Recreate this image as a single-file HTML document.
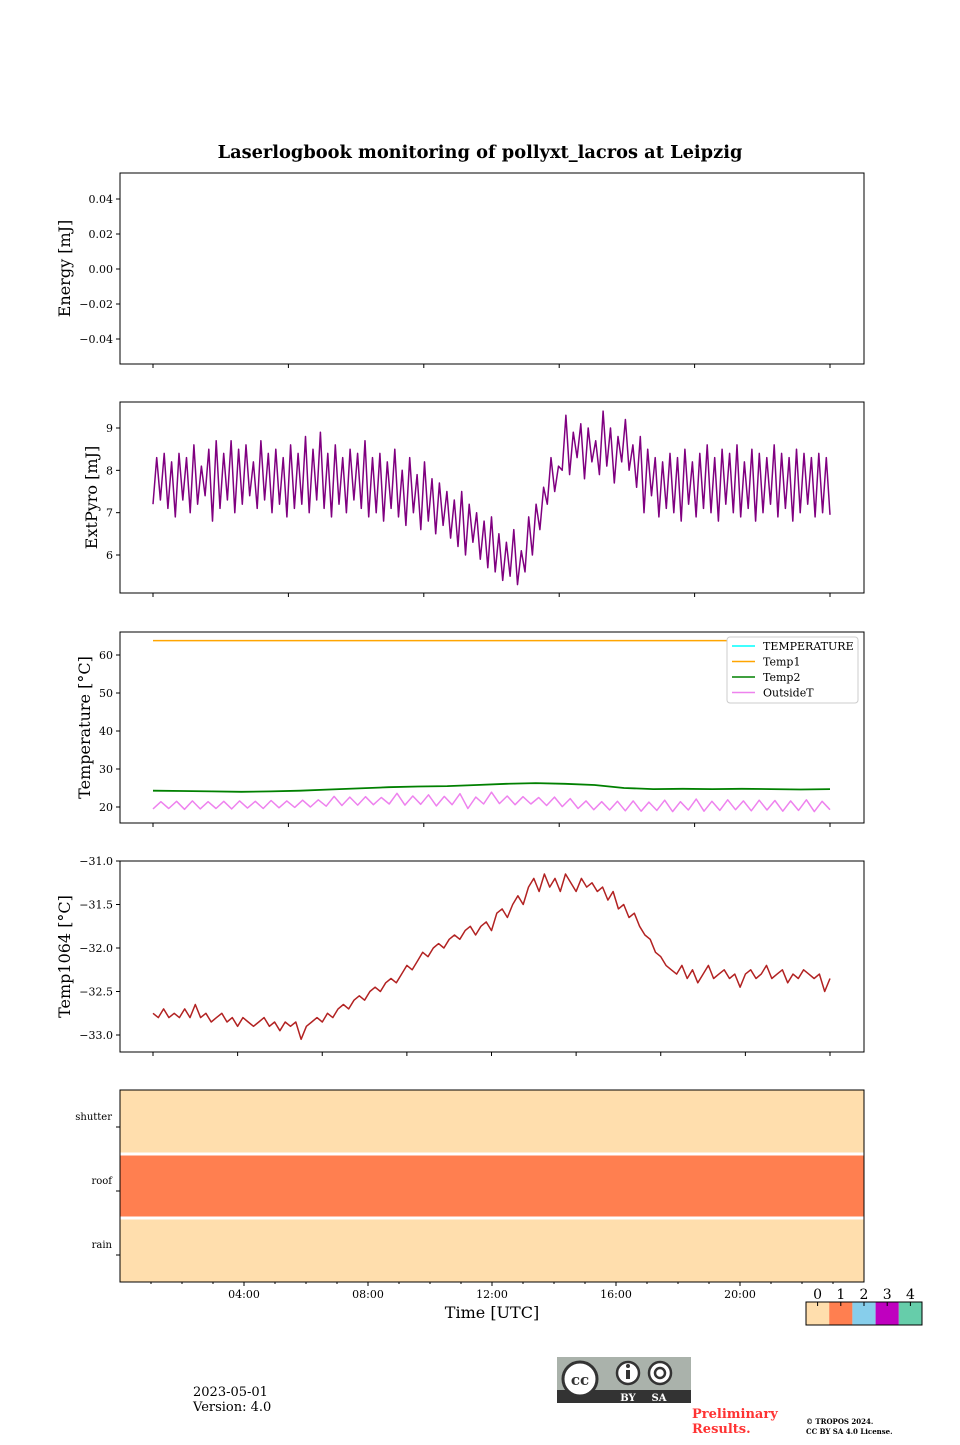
<!DOCTYPE html>
<html><head><meta charset="utf-8"><style>
html,body{margin:0;padding:0;background:#fff}
svg text{font-family:"DejaVu Serif","Liberation Serif",serif}
</style></head><body>
<svg id="fig" width="960" height="1440" xmlns="http://www.w3.org/2000/svg">
<text x="480" y="158" text-anchor="middle" font-size="17.8" font-weight="bold">Laserlogbook monitoring of pollyxt_lacros at Leipzig</text>
</svg>
<script>
const pyroValues=[7.2,8.3,7.3,8.4,7.1,8.2,6.9,8.4,7.3,8.3,7.0,8.6,7.2,8.1,7.4,8.5,6.8,8.7,7.1,8.4,7.3,8.7,7.0,8.5,7.2,8.6,7.4,8.2,7.1,8.7,7.3,8.4,7.0,8.5,7.2,8.3,6.9,8.6,7.1,8.4,7.2,8.8,7.0,8.5,7.3,8.9,7.1,8.4,6.9,8.6,7.2,8.3,7.0,8.5,7.3,8.4,7.1,8.7,6.9,8.3,
7.0,8.4,6.8,8.2,7.1,8.5,6.9,8.0,6.7,8.3,7.0,7.9,6.6,8.2,6.8,7.8,6.5,7.7,6.7,7.5,
6.4,7.3,6.2,7.5,6.0,7.2,6.3,7.0,5.9,6.8,5.7,6.9,5.6,6.5,5.4,6.3,5.5,6.6,5.3,6.1,
5.6,6.9,6.0,7.2,6.6,7.6,7.2,8.3,7.5,8.1,
8.0,9.3,7.9,8.9,8.3,9.1,7.8,9.0,8.2,8.7,7.9,9.4,8.1,9.0,7.7,8.8,8.2,9.2,8.0,8.6,7.6,8.8,
7.0,8.5,7.4,8.3,6.9,8.2,7.1,8.4,7.0,8.3,6.8,8.5,7.2,8.2,6.9,8.4,7.1,8.6,7.0,8.3,6.8,8.5,7.2,8.4,7.0,8.6,6.9,8.2,7.1,8.5,6.8,8.4,7.0,8.3,7.2,8.6,6.9,8.4,7.1,8.3,6.8,8.5,7.0,8.4,7.2,8.3,6.9,8.4,7.0,8.3,6.95];
const temp1Values=[63.8,63.8,63.8,63.8,63.8];
const temp2Values=[24.3,24.2,24.1,24.0,24.1,24.3,24.6,24.9,25.2,25.4,25.5,25.8,26.1,26.3,26.1,25.8,25.0,24.7,24.8,24.7,24.8,24.7,24.6,24.7];
const outsideValues=[19.5,21.4,19.6,21.5,19.4,21.6,19.5,21.4,19.6,21.5,19.5,21.6,19.7,21.5,19.6,21.7,19.8,21.6,19.9,21.8,20.0,21.9,20.2,22.8,20.4,22.6,20.5,22.7,20.6,22.5,20.8,23.6,20.5,22.9,20.7,23.2,20.3,22.8,20.6,23.5,19.6,22.6,20.8,23.9,20.9,22.9,20.6,22.7,20.8,22.5,20.4,22.6,20.1,22.2,19.6,21.6,19.3,21.4,19.2,21.5,19.0,21.6,18.9,21.3,19.1,21.8,18.8,21.4,19.2,22.1,18.9,21.5,19.1,21.9,19.3,21.6,19.0,21.8,19.2,21.7,18.9,21.6,19.1,21.9,18.8,21.5,19.3];
const t1064Values=[-32.75,-32.8,-32.7,-32.8,-32.75,-32.8,-32.7,-32.8,-32.65,-32.8,-32.75,-32.85,-32.8,-32.75,-32.85,-32.8,-32.9,-32.8,-32.85,-32.9,-32.85,-32.8,-32.9,-32.85,-32.95,-32.85,-32.9,-32.85,-33.05,-32.9,-32.85,-32.8,-32.85,-32.75,-32.8,-32.7,-32.65,-32.7,-32.6,-32.55,-32.6,-32.5,-32.45,-32.5,-32.4,-32.35,-32.4,-32.3,-32.2,-32.25,-32.15,-32.05,-32.1,-32.0,-31.95,-32.0,-31.9,-31.85,-31.9,-31.8,-31.75,-31.85,-31.75,-31.7,-31.8,-31.6,-31.55,-31.65,-31.5,-31.4,-31.5,-31.3,-31.2,-31.35,-31.15,-31.3,-31.2,-31.35,-31.15,-31.25,-31.35,-31.2,-31.3,-31.25,-31.35,-31.3,-31.45,-31.35,-31.55,-31.5,-31.65,-31.6,-31.75,-31.85,-31.9,-32.05,-32.1,-32.2,-32.25,-32.3,-32.2,-32.35,-32.25,-32.4,-32.3,-32.2,-32.35,-32.3,-32.25,-32.35,-32.3,-32.45,-32.3,-32.25,-32.35,-32.3,-32.2,-32.35,-32.3,-32.25,-32.4,-32.3,-32.35,-32.25,-32.3,-32.35,-32.3,-32.5,-32.35];
const statusRows=["shutter","roof","rain"];
const statusValues=[0,1,0];
const energyTicks=[0.04,0.02,0.00,-0.02,-0.04];
const pyroTicks=[9,8,7,6];
const tempTicks=[60,50,40,30,20];
const t1064Ticks=[-31.0,-31.5,-32.0,-32.5,-33.0];
const hourTicks=[4,8,12,16,20];
const hourLabels=["04:00","08:00","12:00","16:00","20:00"];
const cbLabels=["0","1","2","3","4"];
const cbColors=["#FFDEAD","#FF7F50","#87CEEB","#BF00BF","#66CDAA"];

const svg=document.getElementById('fig');
const NS='http://www.w3.org/2000/svg';
function mk(t,a,p){const e=document.createElementNS(NS,t);for(const k in a)e.setAttribute(k,a[k]);(p||svg).appendChild(e);return e;}
const L=120,R=864,X0=153,X1=830;
function xi(i,n){return X0+(X1-X0)*i/(n-1);}
function ysc(top,bot,v0,p0,v1,p1){return v=>p0+(v-v0)*(p1-p0)/(v1-v0);}
function hourX(h){return L+(R-L)*h/24;}

function panel(name,top,h,ticks,ys,fmt,label,nx){
  const g=mk('g',{});
  
  
  mk('rect',{x:L,y:top,width:R-L,height:h,fill:'none',stroke:'#000','stroke-width':1},g);
  ticks.forEach(t=>{const y=ys(t);
    mk('line',{x1:L-4,x2:L,y1:y,y2:y,stroke:'#000'},g);
    const tx=mk('text',{x:L-7,y:y+4,'text-anchor':'end','font-size':11},g);tx.textContent=fmt(t);
    
    });
  for(let k=0;k<=nx;k++){const x=X0+(X1-X0)*k/nx;mk('line',{x1:x,x2:x,y1:top+h,y2:top+h+4,stroke:'#000'},g);}
  const yl=mk('text',{x:0,y:0,'text-anchor':'middle','font-size':16,transform:`translate(${label[1]},${top+h/2}) rotate(-90)`},g);yl.textContent=label[0];
  
  
  return g;
}
function line(g,vals,ys,color,w,name){
  const d=vals.map((v,i)=>(i?'L':'M')+xi(i,vals.length).toFixed(1)+' '+ys(v).toFixed(1)).join('');
  const p=mk('path',{d:d,fill:'none',stroke:color,'stroke-width':w,'stroke-linejoin':'round'},g);
  
  
}
const yE=ysc(0,0,0.04,199,-0.04,339);
panel('energy-panel',173,191,energyTicks,yE,v=>(v<0?'\u22120.0':'0.0')+Math.round(Math.abs(v)*100),['Energy [mJ]',70],5);
const yP=ysc(0,0,9,428,6,555);
const g2=panel('extpyro-panel',402,191,pyroTicks,yP,v=>String(v),['ExtPyro [mJ]',97],5);
line(g2,pyroValues,yP,'#800080',1.5,'extpyro-line');
const yT=ysc(0,0,60,655,20,807);
const g3=panel('temperature-panel',632,191,tempTicks,yT,v=>String(v),['Temperature [\u00b0C]',90],5);
line(g3,temp1Values,yT,'#FFA500',1.5,'temp1-line');
line(g3,temp2Values,yT,'#008000',1.8,'temp2-line');
line(g3,outsideValues,yT,'#EE82EE',1.5,'outsidet-line');
const lg=mk('g',{},g3);


mk('rect',{x:727,y:637,width:131,height:66,rx:3,fill:'#fff',stroke:'#ccc'},lg);
[['TEMPERATURE','#00FFFF'],['Temp1','#FFA500'],['Temp2','#008000'],['OutsideT','#EE82EE']].forEach((e,i)=>{
  const y=646+i*15.5;
  mk('line',{x1:732,x2:755,y1:y,y2:y,stroke:e[1],'stroke-width':1.5},lg);
  const t=mk('text',{x:763,y:y+4,'font-size':11},lg);t.textContent=e[0];
  
  
});
const y4=ysc(0,0,-31,861,-33,1035);
const g4=panel('temp1064-panel',861,191,t1064Ticks,y4,v=>(v<0?'\u2212':'')+Math.abs(v).toFixed(1),['Temp1064 [\u00b0C]',70],8);
line(g4,t1064Values,y4,'#B22222',1.5,'temp1064-line');
const g5=mk('g',{});


const rowH=(1282-1090)/statusRows.length;
statusRows.forEach((r,i)=>{
  const y=1090+i*rowH;
  const c=mk('rect',{x:L,y:y,width:R-L,height:rowH,fill:cbColors[statusValues[i]]},g5);
  
  
  if(i>0)mk('line',{x1:L,x2:R,y1:y,y2:y,stroke:'#fff','stroke-width':3},g5);
  const cy=y+rowH/2;
  mk('line',{x1:L-4,x2:L,y1:cy+5,y2:cy+5,stroke:'#000'},g5);
  const t=mk('text',{x:L-8,y:cy-2,'text-anchor':'end','font-size':10},g5);t.textContent=r;
  
  
});
mk('rect',{x:L,y:1090,width:R-L,height:192,fill:'none',stroke:'#000'},g5);
for(let h=1;h<24;h++){const x=hourX(h);mk('line',{x1:x,x2:x,y1:1282,y2:1282+(h%4?2:4),stroke:'#000'},g5);}
hourTicks.forEach((h,i)=>{const t=mk('text',{x:hourX(h),y:1298,'text-anchor':'middle','font-size':11},g5);t.textContent=hourLabels[i];
  
  });
const xt=mk('text',{x:492,y:1318,'text-anchor':'middle','font-size':16});xt.textContent='Time [UTC]';


const cb=mk('g',{});


const cw=116/cbColors.length;
cbColors.forEach((c,i)=>{const x=806+i*cw;
  mk('rect',{x:x,y:1302,width:cw,height:23,fill:c},cb);
  mk('line',{x1:x+cw/2,x2:x+cw/2,y1:1302,y2:1306,stroke:'#000'},cb);
  const t=mk('text',{x:x+cw/2,y:1299,'text-anchor':'middle','font-size':14},cb);t.textContent=cbLabels[i];
  
  });
mk('rect',{x:806,y:1302,width:116,height:23,fill:'none',stroke:'#000'},cb);
const f=mk('g',{});


const d1=mk('text',{x:193,y:1396,'font-size':13},f);d1.textContent='2023-05-01';
const d2=mk('text',{x:193,y:1411,'font-size':13},f);d2.textContent='Version: 4.0';
const cc=mk('g',{},f);


mk('rect',{x:557,y:1357,width:134,height:46,fill:'#aab2ab'},cc);
mk('rect',{x:557,y:1390,width:134,height:13,fill:'#333'},cc);
mk('circle',{cx:580,cy:1379,r:17,fill:'#fff',stroke:'#333','stroke-width':3},cc);
const ct=mk('text',{x:580,y:1385,'text-anchor':'middle','font-size':15,'font-weight':'bold',fill:'#333','font-family':'Liberation Sans'},cc);ct.textContent='cc';
mk('circle',{cx:628,cy:1373,r:11,fill:'#fff',stroke:'#333','stroke-width':2.5},cc);
mk('circle',{cx:660,cy:1373,r:11,fill:'#fff',stroke:'#333','stroke-width':2.5},cc);
mk('rect',{x:626,y:1370,width:4,height:9,fill:'#333'},cc);
mk('circle',{cx:628,cy:1366,r:2,fill:'#333'},cc);
mk('circle',{cx:660,cy:1373,r:5,fill:'none',stroke:'#333','stroke-width':2.5},cc);
const by=mk('text',{x:628,y:1401,'text-anchor':'middle','font-size':10,'font-weight':'bold',fill:'#fff','font-family':'Liberation Sans'},cc);by.textContent='BY';
const sa=mk('text',{x:659,y:1401,'text-anchor':'middle','font-size':10,'font-weight':'bold',fill:'#fff','font-family':'Liberation Sans'},cc);sa.textContent='SA';
const p1=mk('text',{x:692,y:1418,'font-size':13,'font-weight':'bold',fill:'#ff3333'},f);p1.textContent='Preliminary';
const p2=mk('text',{x:692,y:1433,'font-size':13,'font-weight':'bold',fill:'#ff3333'},f);p2.textContent='Results.';
const c1=mk('text',{x:806,y:1424,'font-size':7,'font-weight':'bold'},f);c1.textContent='\u00a9 TROPOS 2024.';
const c2=mk('text',{x:806,y:1434,'font-size':7,'font-weight':'bold'},f);c2.textContent='CC BY SA 4.0 License.';
</script>
</body></html>
